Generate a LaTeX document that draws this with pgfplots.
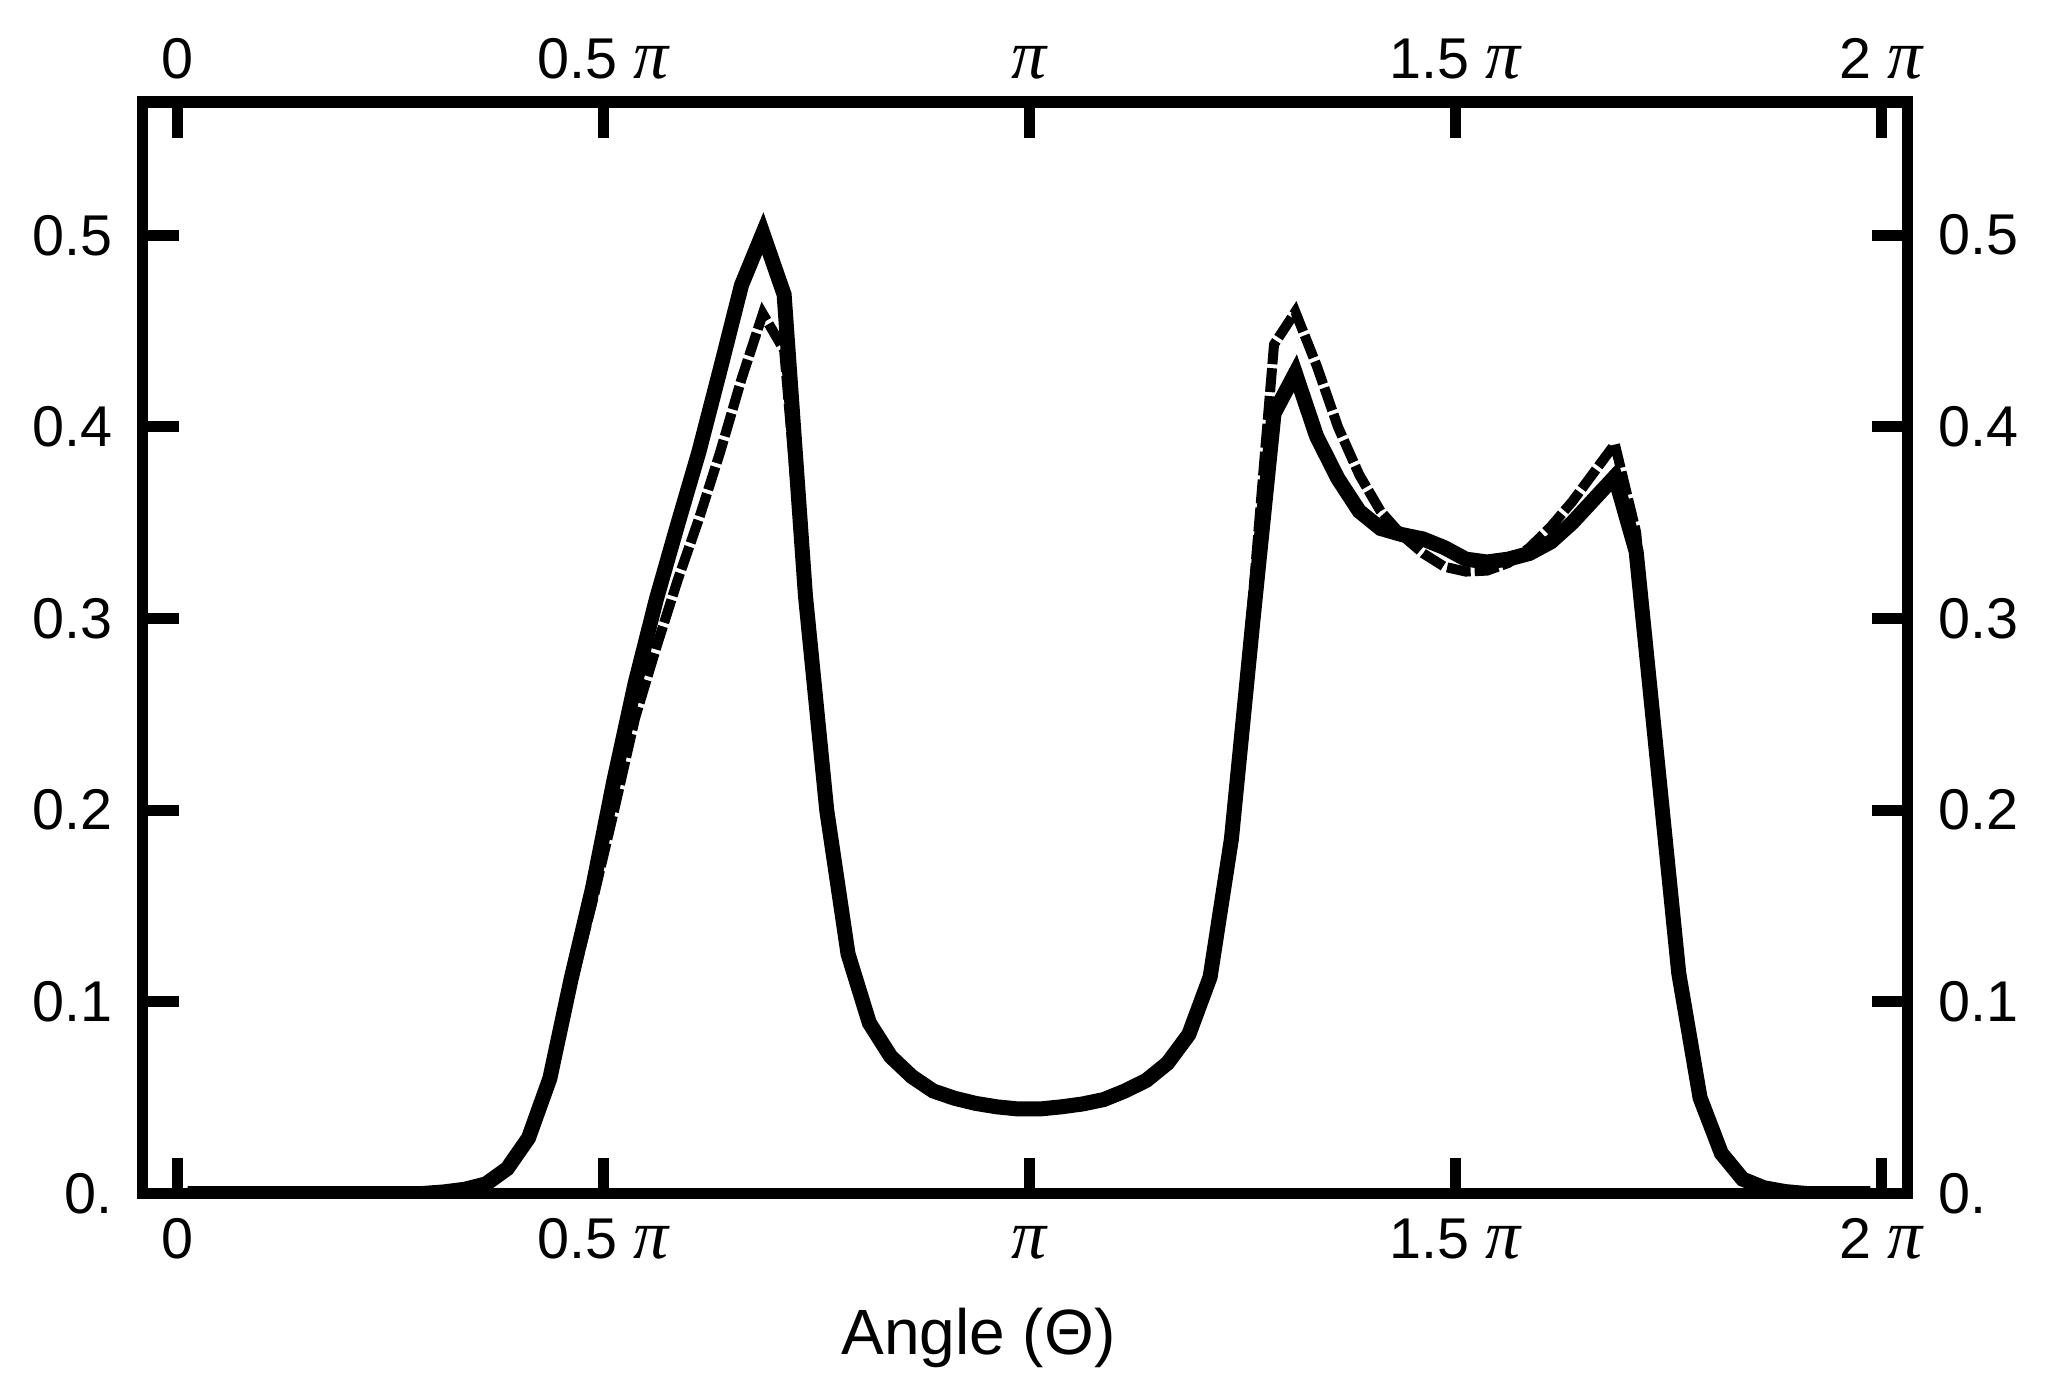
\documentclass[border=0pt]{standalone}
\usepackage{fontspec}
\setmainfont{Liberation Sans}
\newfontfamily\serifpi{Liberation Serif}
\usepackage{pgfplots}
\pgfplotsset{compat=1.18}
\usepackage{pgfplotstable}
\newcommand{\PI}{{\fontsize{14pt}{15pt}\serifpi\itshape π}}

\pgfplotstableread{
x y
0.0125 0
0.0375 0
0.0625 0
0.0875 0
0.1125 0
0.1375 0
0.1625 0
0.1875 0
0.2125 0
0.2375 0
0.2625 0
0.2875 0
0.3125 0.0008
0.3375 0.0022
0.3625 0.005
0.3875 0.013
0.4125 0.029
0.4375 0.060
0.4625 0.112
0.4875 0.159
0.5125 0.215
0.5375 0.266
0.5625 0.310
0.5875 0.349
0.6125 0.387
0.6375 0.430
0.6625 0.474
0.6875 0.501
0.7125 0.469
0.7375 0.312
0.7625 0.200
0.7875 0.125
0.8125 0.089
0.8375 0.0715
0.8625 0.061
0.8875 0.0535
0.9125 0.0497
0.9375 0.047
0.9625 0.0452
0.9875 0.0441
1.0125 0.0441
1.0375 0.0452
1.0625 0.0467
1.0875 0.049
1.1125 0.0535
1.1375 0.059
1.1625 0.068
1.1875 0.083
1.2125 0.113
1.2375 0.185
1.2625 0.298
1.2875 0.407
1.3125 0.428
1.3375 0.395
1.3625 0.373
1.3875 0.356
1.4125 0.347
1.4375 0.3438
1.4625 0.3415
1.4875 0.337
1.5125 0.331
1.5375 0.3295
1.5625 0.331
1.5875 0.334
1.6125 0.340
1.6375 0.350
1.6625 0.362
1.6875 0.374
1.7125 0.335
1.7375 0.225
1.7625 0.115
1.7875 0.050
1.8125 0.021
1.8375 0.0075
1.8625 0.003
1.8875 0.001
1.9125 0
1.9375 0
1.9625 0
1.9875 0
}\solid

\pgfplotstableread{
x y
0.0125 0
0.0375 0
0.0625 0
0.0875 0
0.1125 0
0.1375 0
0.1625 0
0.1875 0
0.2125 0
0.2375 0
0.2625 0
0.2875 0
0.3125 0.0008
0.3375 0.0022
0.3625 0.005
0.3875 0.013
0.4125 0.029
0.4375 0.059
0.4625 0.108
0.4875 0.152
0.5125 0.199
0.5375 0.248
0.5625 0.285
0.5875 0.320
0.6125 0.352
0.6375 0.387
0.6625 0.425
0.6875 0.459
0.7125 0.440
0.7375 0.310
0.7625 0.198
0.7875 0.125
0.8125 0.089
0.8375 0.0715
0.8625 0.061
0.8875 0.0535
0.9125 0.0497
0.9375 0.047
0.9625 0.0452
0.9875 0.0441
1.0125 0.0441
1.0375 0.0452
1.0625 0.0467
1.0875 0.049
1.1125 0.0535
1.1375 0.060
1.1625 0.069
1.1875 0.085
1.2125 0.116
1.2375 0.190
1.2625 0.310
1.2875 0.443
1.3125 0.460
1.3375 0.432
1.3625 0.400
1.3875 0.375
1.4125 0.356
1.4375 0.3435
1.4625 0.334
1.4875 0.327
1.5125 0.3245
1.5375 0.325
1.5625 0.329
1.5875 0.337
1.6125 0.348
1.6375 0.361
1.6625 0.376
1.6875 0.391
1.7125 0.345
1.7375 0.225
1.7625 0.115
1.7875 0.050
1.8125 0.021
1.8375 0.0075
1.8625 0.003
1.8875 0.001
1.9125 0
1.9375 0
1.9625 0
1.9875 0
}\dashed

\pgfplotsset{
  common/.style={
    scale only axis,
    width=352.9pt, height=218.3pt,
    xmin=-0.04, xmax=2.031, ymin=0, ymax=0.5695,
    axis line style={line width=2.2pt, black},
    tick align=inside,
    major tick length=7.2pt,
    tick style={line width=2.2pt, black},
    xtick={0,0.5,1,1.5,2},
    xticklabels={0, 0.5 \PI, \PI, 1.5 \PI, 2 \PI},
    ytick={0,0.1,0.2,0.3,0.4,0.5},
    yticklabels={0., 0.1, 0.2, 0.3, 0.4, 0.5},
    ticklabel style={font=\fontsize{11.5pt}{13pt}\selectfont, inner sep=0pt},
    xticklabel style={text height=8.3pt, text depth=0pt},
  }
}

\begin{document}
\begin{tikzpicture}
\begin{axis}[common, name=ax,
  xticklabel pos=lower, yticklabel pos=left,
  xticklabel style={anchor=north, yshift=-4.5pt},
  yticklabel style={anchor=east, xshift=-6pt},
  xlabel={Angle (Θ)},
  xlabel style={at={(rel axis cs:0.4735,0)}, anchor=base, yshift=-32.1pt, inner sep=0pt,
    font=\fontsize{12.8pt}{15pt}\selectfont},
]
\addplot[black, line width=3pt, line join=miter] table[x=x, y=y] {\solid};
\addplot[black, line width=2pt, line join=miter, dash pattern=on 4.8pt off 0.8pt] table[x=x, y=y] {\dashed};
\end{axis}
\begin{axis}[common, at={(ax.south west)}, anchor=south west,
  xticklabel pos=upper, yticklabel pos=right,
  xticklabel style={anchor=south, yshift=4.5pt},
  yticklabel style={anchor=west, xshift=6pt},
]
\end{axis}
\path ([shift={(-28.6pt,-39.9pt)}]ax.south west) rectangle ([shift={(380.8pt,238.7pt)}]ax.south west);
\end{tikzpicture}
\end{document}
